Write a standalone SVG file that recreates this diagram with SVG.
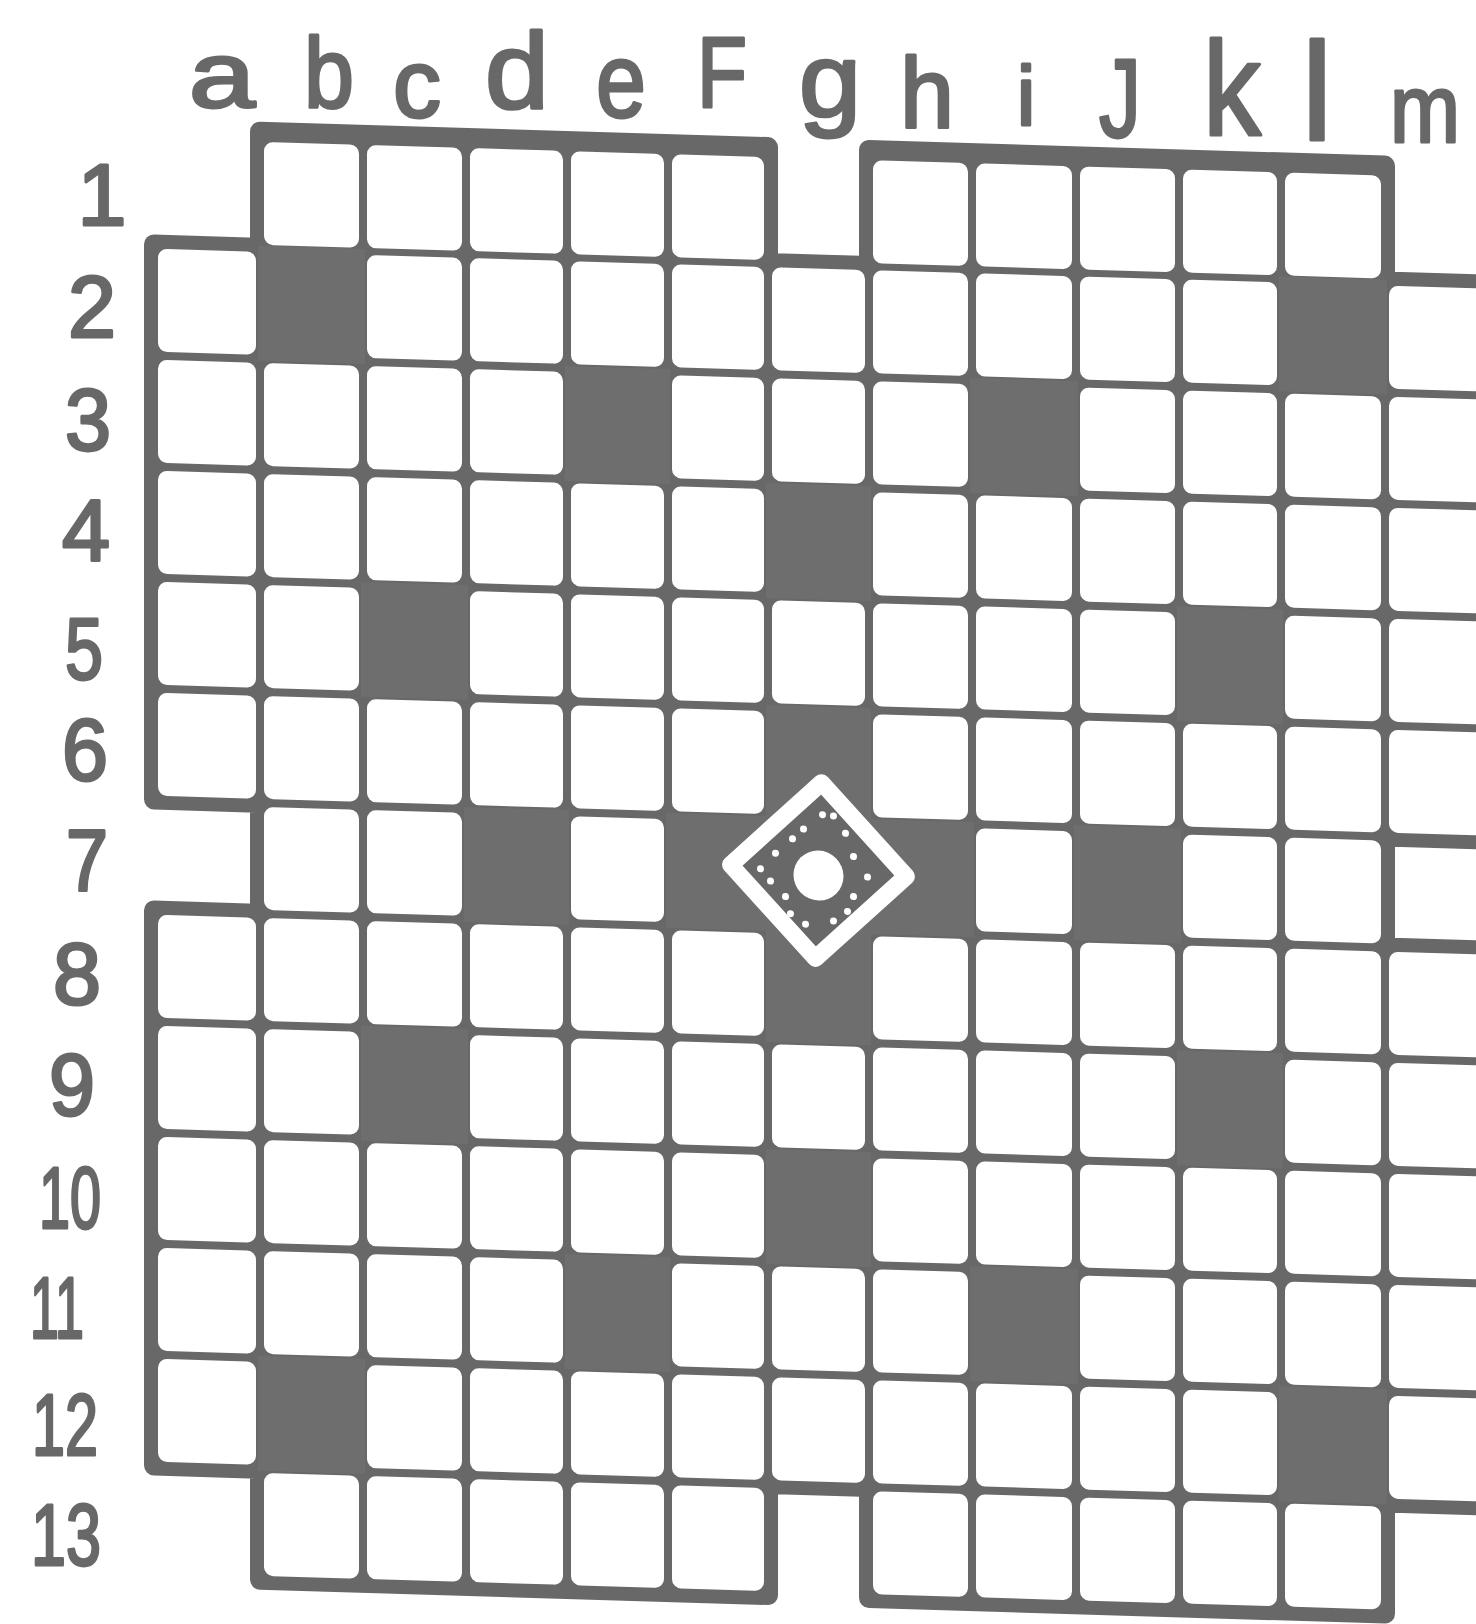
<svg xmlns="http://www.w3.org/2000/svg" xmlns:xlink="http://www.w3.org/1999/xlink" width="1476" height="1624" viewBox="0 0 1476 1624">
<style>
.ink{fill:#686868}
.shade{fill:#6e6e6e}
.cell{fill:#ffffff}
.lbl{font-family:"Liberation Sans",Arial,sans-serif;fill:#686868;stroke:#686868;stroke-width:3;stroke-linejoin:round;text-anchor:middle}
.num{font-family:"Liberation Sans",Arial,sans-serif;fill:#686868;stroke:#686868;stroke-width:3;stroke-linejoin:round;text-anchor:middle;font-size:88px}
.dot{fill:#ffffff}
</style>
<defs>
<g id="rowFull">
<rect class="cell" x="158" y="0" width="98" height="103" rx="9"/>
<rect class="cell" x="264" y="0" width="95" height="103" rx="9"/>
<rect class="cell" x="367" y="0" width="95" height="103" rx="9"/>
<rect class="cell" x="470" y="0" width="93" height="103" rx="9"/>
<rect class="cell" x="571" y="0" width="93" height="103" rx="9"/>
<rect class="cell" x="672" y="0" width="92" height="103" rx="9"/>
<rect class="cell" x="772" y="0" width="93" height="103" rx="9"/>
<rect class="cell" x="873" y="0" width="95" height="103" rx="9"/>
<rect class="cell" x="976" y="0" width="96" height="103" rx="9"/>
<rect class="cell" x="1080" y="0" width="95" height="103" rx="9"/>
<rect class="cell" x="1183" y="0" width="94" height="103" rx="9"/>
<rect class="cell" x="1285" y="0" width="96" height="103" rx="9"/>
<rect class="cell" x="1389" y="0" width="95" height="103" rx="9"/>
</g>
<g id="rowEdge">
<rect class="cell" x="264" y="0" width="95" height="103" rx="9"/>
<rect class="cell" x="367" y="0" width="95" height="103" rx="9"/>
<rect class="cell" x="470" y="0" width="93" height="103" rx="9"/>
<rect class="cell" x="571" y="0" width="93" height="103" rx="9"/>
<rect class="cell" x="672" y="0" width="92" height="103" rx="9"/>
<rect class="cell" x="873" y="0" width="95" height="103" rx="9"/>
<rect class="cell" x="976" y="0" width="96" height="103" rx="9"/>
<rect class="cell" x="1080" y="0" width="95" height="103" rx="9"/>
<rect class="cell" x="1183" y="0" width="94" height="103" rx="9"/>
<rect class="cell" x="1285" y="0" width="96" height="103" rx="9"/>
</g>
<g id="rowMid">
<rect class="cell" x="264" y="0" width="95" height="103" rx="9"/>
<rect class="cell" x="367" y="0" width="95" height="103" rx="9"/>
<rect class="cell" x="470" y="0" width="93" height="103" rx="9"/>
<rect class="cell" x="571" y="0" width="93" height="103" rx="9"/>
<rect class="cell" x="672" y="0" width="92" height="103" rx="9"/>
<rect class="cell" x="772" y="0" width="93" height="103" rx="9"/>
<rect class="cell" x="873" y="0" width="95" height="103" rx="9"/>
<rect class="cell" x="976" y="0" width="96" height="103" rx="9"/>
<rect class="cell" x="1080" y="0" width="95" height="103" rx="9"/>
<rect class="cell" x="1183" y="0" width="94" height="103" rx="9"/>
<rect class="cell" x="1285" y="0" width="96" height="103" rx="9"/>
</g>
</defs>
<rect x="0" y="0" width="1476" height="1624" fill="#ffffff"/>
<g id="board" transform="skewY(1.7184)">
<path id="board-outline" class="ink" stroke="#686868" stroke-width="20" stroke-linejoin="round" d="M260,124 L768,124 L768,240 L869,240 L869,124 L1385,124 L1385,240 L1482,240 L1482,795 L1385,795 L1385,906 L1482,906 L1482,1461 L1385,1461 L1385,1572 L869,1572 L869,1461 L768,1461 L768,1572 L260,1572 L260,1461 L154,1461 L154,906 L260,906 L260,795 L154,795 L154,240 L260,240 Z"/>
<g id="cells">
<use xlink:href="#rowEdge" href="#rowEdge" y="134"/>
<use xlink:href="#rowFull" href="#rowFull" y="244"/>
<use xlink:href="#rowFull" href="#rowFull" y="355"/>
<use xlink:href="#rowFull" href="#rowFull" y="466"/>
<use xlink:href="#rowFull" href="#rowFull" y="577"/>
<use xlink:href="#rowFull" href="#rowFull" y="688"/>
<use xlink:href="#rowMid" href="#rowMid" y="799"/>
<use xlink:href="#rowFull" href="#rowFull" y="910"/>
<use xlink:href="#rowFull" href="#rowFull" y="1021"/>
<use xlink:href="#rowFull" href="#rowFull" y="1132"/>
<use xlink:href="#rowFull" href="#rowFull" y="1243"/>
<use xlink:href="#rowFull" href="#rowFull" y="1354"/>
<use xlink:href="#rowEdge" href="#rowEdge" y="1465"/>
</g>
<g id="shaded">
<rect class="shade" x="258" y="238" width="107" height="115"/>
<rect class="shade" x="1279" y="238" width="108" height="115"/>
<rect class="shade" x="565" y="349" width="105" height="115"/>
<rect class="shade" x="970" y="349" width="108" height="115"/>
<rect class="shade" x="766" y="460" width="105" height="115"/>
<rect class="shade" x="361" y="571" width="107" height="115"/>
<rect class="shade" x="1177" y="571" width="106" height="115"/>
<rect class="shade" x="766" y="682" width="105" height="115"/>
<rect class="shade" x="464" y="793" width="105" height="115"/>
<rect class="shade" x="666" y="793" width="104" height="115"/>
<rect class="shade" x="766" y="793" width="105" height="115"/>
<rect class="shade" x="867" y="793" width="107" height="115"/>
<rect class="shade" x="1074" y="793" width="107" height="115"/>
<rect class="shade" x="766" y="904" width="105" height="115"/>
<rect class="shade" x="361" y="1015" width="107" height="115"/>
<rect class="shade" x="1177" y="1015" width="106" height="115"/>
<rect class="shade" x="766" y="1126" width="105" height="115"/>
<rect class="shade" x="565" y="1237" width="105" height="115"/>
<rect class="shade" x="970" y="1237" width="108" height="115"/>
<rect class="shade" x="258" y="1348" width="107" height="115"/>
<rect class="shade" x="1279" y="1348" width="108" height="115"/>
</g>
<g id="centre-mark" transform="translate(818.5,846)">
<polygon points="0,-88 88,0 0,88 -88,0" transform="rotate(2)" fill="#686868" stroke="#ffffff" stroke-width="17" stroke-linejoin="round"/>
<circle cx="0" cy="5" r="25" fill="#ffffff"/>
<g id="dots">
<circle class="dot" cx="4" cy="-56" r="3.5"/>
<circle class="dot" cx="-15" cy="-41" r="3.5"/>
<circle class="dot" cx="-26" cy="-31" r="3.5"/>
<circle class="dot" cx="-43" cy="-16" r="3.5"/>
<circle class="dot" cx="-58" cy="0" r="3.5"/>
<circle class="dot" cx="-48" cy="12" r="3.5"/>
<circle class="dot" cx="-33" cy="27" r="3.5"/>
<circle class="dot" cx="-28" cy="44" r="3.5"/>
<circle class="dot" cx="-13" cy="54" r="3.5"/>
<circle class="dot" cx="15" cy="50" r="3.5"/>
<circle class="dot" cx="29" cy="40" r="3.5"/>
<circle class="dot" cx="35" cy="25" r="3.5"/>
<circle class="dot" cx="49" cy="5" r="3.5"/>
<circle class="dot" cx="35" cy="-15" r="3.5"/>
<circle class="dot" cx="27" cy="-38" r="3.5"/>
<circle class="dot" cx="15" cy="-55" r="3.5"/>
</g>
</g>
</g>
<g id="column-labels">
<text class="lbl" x="222" y="107" font-size="92" textLength="66" lengthAdjust="spacingAndGlyphs">a</text>
<text class="lbl" x="329" y="108" font-size="100" textLength="50" lengthAdjust="spacingAndGlyphs">b</text>
<text class="lbl" x="417" y="117" font-size="96" textLength="48" lengthAdjust="spacingAndGlyphs">c</text>
<text class="lbl" x="517" y="108" font-size="108" textLength="64" lengthAdjust="spacingAndGlyphs">d</text>
<text class="lbl" x="621" y="117" font-size="106" textLength="50" lengthAdjust="spacingAndGlyphs">e</text>
<text class="lbl" x="722" y="107" font-size="100" textLength="50" lengthAdjust="spacingAndGlyphs">F</text>
<text class="lbl" x="830" y="116" font-size="104" textLength="62" lengthAdjust="spacingAndGlyphs">g</text>
<text class="lbl" x="927" y="128" font-size="100" textLength="54" lengthAdjust="spacingAndGlyphs">h</text>
<text class="lbl" x="1026" y="125" font-size="84">i</text>
<text class="lbl" x="1120" y="137" font-size="112" textLength="42" lengthAdjust="spacingAndGlyphs">J</text>
<text class="lbl" x="1232" y="135" font-size="134" textLength="58" lengthAdjust="spacingAndGlyphs">k</text>
<text class="lbl" x="1317" y="140" font-size="140" stroke-width="1">l</text>
<text class="lbl" x="1425" y="142" font-size="96" textLength="70" lengthAdjust="spacingAndGlyphs">m</text>
</g>
<g id="row-labels">
<text class="num" x="102" y="225">1</text>
<text class="num" x="92" y="337" textLength="48" lengthAdjust="spacingAndGlyphs">2</text>
<text class="num" x="88" y="450" textLength="46" lengthAdjust="spacingAndGlyphs">3</text>
<text class="num" x="86" y="561" textLength="48" lengthAdjust="spacingAndGlyphs">4</text>
<text class="num" x="84" y="679" textLength="38" lengthAdjust="spacingAndGlyphs">5</text>
<text class="num" x="85" y="780" textLength="46" lengthAdjust="spacingAndGlyphs">6</text>
<text class="num" x="87" y="891" textLength="42" lengthAdjust="spacingAndGlyphs">7</text>
<text class="num" x="77" y="1004" textLength="48" lengthAdjust="spacingAndGlyphs">8</text>
<text class="num" x="72" y="1115" textLength="46" lengthAdjust="spacingAndGlyphs">9</text>
<text class="num" x="70" y="1228" textLength="62" lengthAdjust="spacingAndGlyphs">10</text>
<text class="num" x="57" y="1338" textLength="54" lengthAdjust="spacingAndGlyphs">11</text>
<text class="num" x="65" y="1455" textLength="66" lengthAdjust="spacingAndGlyphs">12</text>
<text class="num" x="66" y="1565" textLength="70" lengthAdjust="spacingAndGlyphs">13</text>
</g>
</svg>
